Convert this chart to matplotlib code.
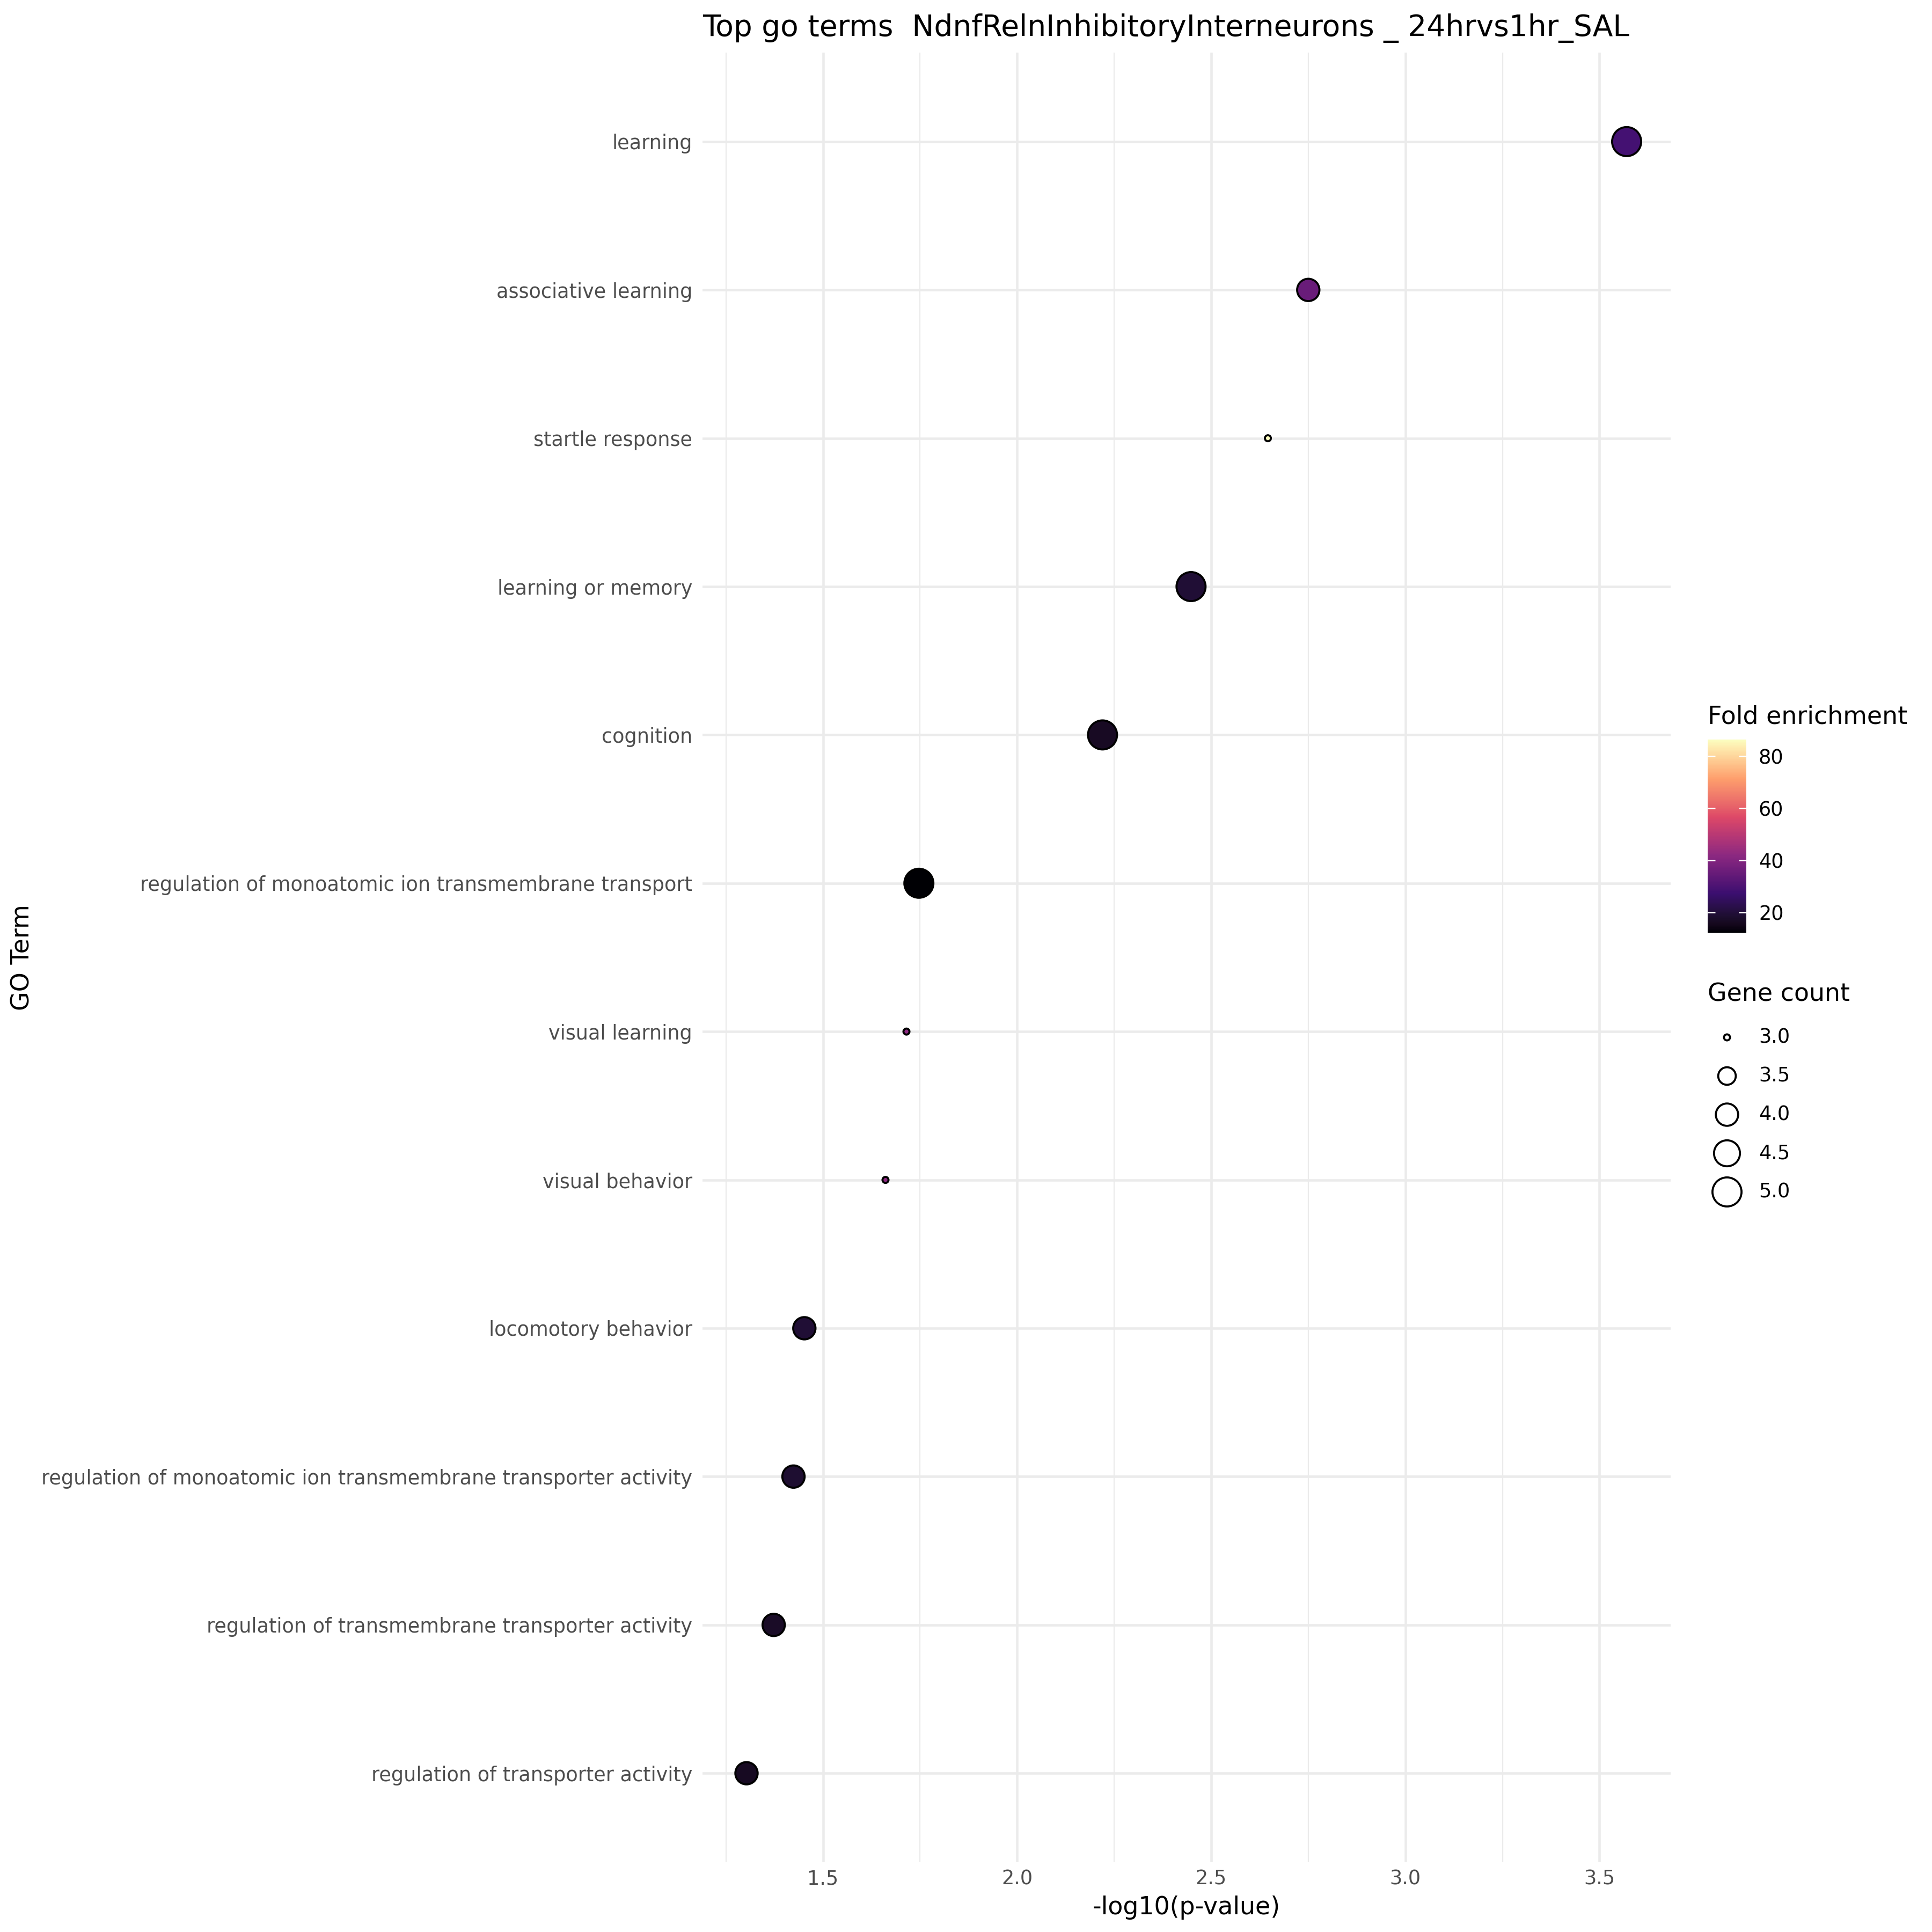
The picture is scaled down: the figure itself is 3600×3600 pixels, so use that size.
import numpy as np
import matplotlib
matplotlib.use("Agg")
import matplotlib.pyplot as plt
from matplotlib.colors import Normalize, ListedColormap, to_rgb
from matplotlib.ticker import MultipleLocator

terms = [
    "learning",
    "associative learning",
    "startle response",
    "learning or memory",
    "cognition",
    "regulation of monoatomic ion transmembrane transport",
    "visual learning",
    "visual behavior",
    "locomotory behavior",
    "regulation of monoatomic ion transmembrane transporter activity",
    "regulation of transmembrane transporter activity",
    "regulation of transporter activity",
]
neglog_p = [3.57, 2.75, 2.646, 2.448, 2.22, 1.747, 1.715, 1.661, 1.452, 1.424, 1.373, 1.303]
fold = [28.6, 35.2, 86.5, 19.0, 16.5, 12.2, 42.0, 42.0, 19.0, 18.5, 17.0, 16.0]
genes = [5, 4, 3, 5, 5, 5, 3, 3, 4, 4, 4, 4]
legend_counts = [3.0, 3.5, 4.0, 4.5, 5.0]
cbar_ticks = [20, 40, 60, 80]
magma6 = ["#000004", "#3B0F70", "#8C2981", "#DE4968", "#FE9F6D", "#FCFDBF"]

title = "Top go terms  NdnfRelnInhibitoryInterneurons _ 24hrvs1hr_SAL"

DPI = 300
LW = 0.9
W = H = 3600
gmin, gmax = min(genes), max(genes)

# --- magma gradient interpolated in Lab (like ggplot's viridis_c scale) ---
M = np.array([[0.4124, 0.3576, 0.1805], [0.2126, 0.7152, 0.0722], [0.0193, 0.1192, 0.9505]])
WHITE = np.array([0.95047, 1.0, 1.08883])


def rgb2lab(rgb):
    c = np.where(rgb <= 0.04045, rgb / 12.92, ((rgb + 0.055) / 1.055) ** 2.4)
    xyz = c @ M.T / WHITE
    d = 6 / 29
    f = np.where(xyz > d ** 3, np.cbrt(xyz), xyz / (3 * d * d) + 4 / 29)
    return np.stack([116 * f[..., 1] - 16, 500 * (f[..., 0] - f[..., 1]), 200 * (f[..., 1] - f[..., 2])], -1)


def lab2rgb(lab):
    fy = (lab[..., 0] + 16) / 116
    fx = fy + lab[..., 1] / 500
    fz = fy - lab[..., 2] / 200
    f = np.stack([fx, fy, fz], -1)
    d = 6 / 29
    xyz = np.where(f > d, f ** 3, 3 * d * d * (f - 4 / 29)) * WHITE
    c = xyz @ np.linalg.inv(M).T
    c = np.clip(c, 0, 1)
    return np.clip(np.where(c <= 0.0031308, 12.92 * c, 1.055 * c ** (1 / 2.4) - 0.055), 0, 1)


anchors = rgb2lab(np.array([to_rgb(h) for h in magma6]))
tt = np.linspace(0, 1, 256)
pos = np.linspace(0, 1, len(magma6))
lab = np.stack([np.interp(tt, pos, anchors[:, k]) for k in range(3)], -1)
cmap = ListedColormap(lab2rgb(lab))
norm = Normalize(vmin=min(fold), vmax=max(fold))


def marker_area(v):
    r = (np.asarray(v, dtype=float) - gmin) / (gmax - gmin)
    d = 2.7 + (13.0 - 2.7) * np.sqrt(r)
    return d ** 2


def fx(px):
    return px / W


def fy(px):
    return 1 - px / H


fig = plt.figure(figsize=(12, 12), dpi=DPI)
ax = fig.add_axes([fx(1309), fy(3470), fx(3113 - 1309), (3470 - 98) / H])

n = len(terms)
ypos = np.arange(n)[::-1]
ax.scatter(neglog_p, ypos, s=marker_area(genes), c=fold, cmap=cmap, norm=norm,
           edgecolors="black", linewidths=LW, zorder=3)

ax.set_yticks(ypos)
ax.set_yticklabels(terms)
ax.set_ylim(-0.6, n - 1 + 0.6)
xr = max(neglog_p) - min(neglog_p)
ax.set_xlim(min(neglog_p) - 0.05 * xr, max(neglog_p) + 0.05 * xr)
ax.xaxis.set_major_locator(MultipleLocator(0.5))
ax.xaxis.set_minor_locator(MultipleLocator(0.25))

for s in ax.spines.values():
    s.set_visible(False)
ax.grid(True, which="major", color="#ebebeb", linewidth=1.1, zorder=0)
ax.grid(True, which="minor", axis="x", color="#ebebeb", linewidth=0.55, zorder=0)
ax.set_axisbelow(True)
ax.tick_params(axis="both", which="both", length=0, labelsize=8.8, labelcolor="#4d4d4d")
ax.tick_params(axis="y", pad=4.5)
ax.tick_params(axis="x", pad=3.0)

ax.set_xlabel("-log10(p-value)", fontsize=11, labelpad=3)
fig.text(fx(42), 0.5 * (fy(98) + fy(3470)), "GO Term", fontsize=11, rotation=90,
         ha="center", va="center")
fig.text(fx(1309), fy(52), title, fontsize=13.2, ha="left", va="center")

# colour legend (drawn as a gradient strip)
fig.text(fx(3182), fy(1336), "Fold enrichment", fontsize=11, ha="left", va="center")
cax = fig.add_axes([fx(3182), fy(1738), fx(72), (1738 - 1378) / H])
grad = np.linspace(norm.vmin, norm.vmax, 300).reshape(-1, 1)
cax.imshow(grad, aspect="auto", origin="lower", cmap=cmap, norm=norm,
           extent=[0, 1, norm.vmin, norm.vmax])
cax.set_xlim(0, 1)
cax.set_ylim(norm.vmin, norm.vmax)
cax.hlines(cbar_ticks, 0, 0.2, colors="white", linewidth=0.6)
cax.hlines(cbar_ticks, 0.8, 1, colors="white", linewidth=0.6)
cax.set_xticks([])
cax.yaxis.tick_right()
cax.set_yticks(cbar_ticks)
cax.tick_params(axis="y", length=0, pad=5.5, labelsize=8.8)
for s in cax.spines.values():
    s.set_visible(False)

# size legend
fig.text(fx(3182), fy(1853), "Gene count", fontsize=11, ha="left", va="center")
lax = fig.add_axes([fx(3182), fy(2257), fx(72), (2257 - 1897) / H])
lax.set_axis_off()
ly = np.arange(len(legend_counts))[::-1]
lax.scatter(np.zeros(len(legend_counts)), ly, s=marker_area(legend_counts),
            facecolors="none", edgecolors="black", linewidths=LW, clip_on=False)
lax.set_xlim(-1, 1)
lax.set_ylim(-0.5, len(legend_counts) - 0.5)
for yy, v in zip(ly, legend_counts):
    lax.annotate("{0:.1f}".format(v), xy=(1, yy), xytext=(5.5, 0), textcoords="offset points",
                 fontsize=8.8, ha="left", va="center", annotation_clip=False)

fig.savefig("out.png", dpi=DPI)
